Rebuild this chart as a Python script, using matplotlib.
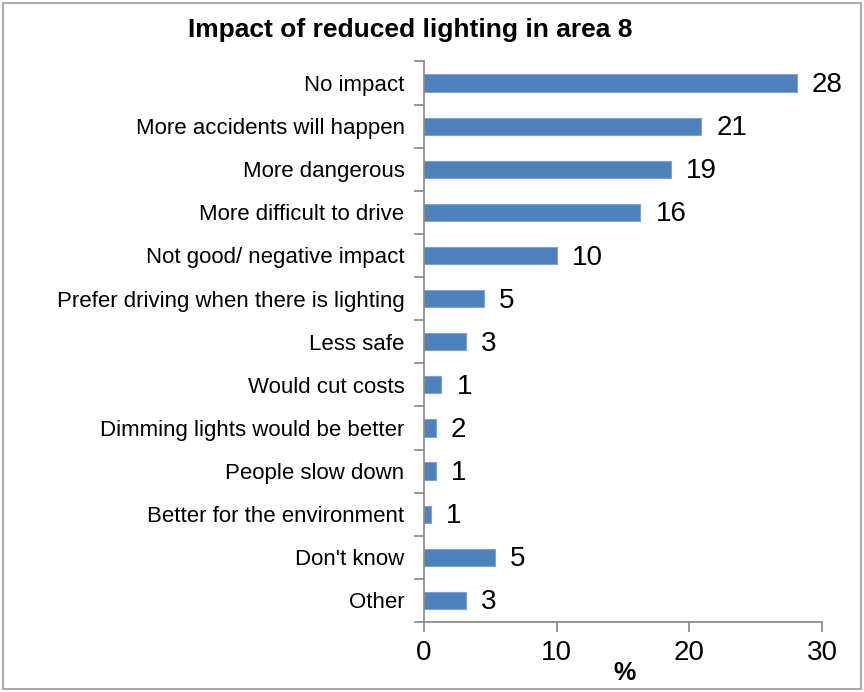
import matplotlib.pyplot as plt
import numpy as np
from matplotlib.patches import Rectangle

plt.rcParams['font.family'] = ['Liberation Sans', 'DejaVu Sans']

categories = ["No impact", "More accidents will happen", "More dangerous",
              "More difficult to drive", "Not good/ negative impact",
              "Prefer driving when there is lighting", "Less safe",
              "Would cut costs", "Dimming lights would be better",
              "People slow down", "Better for the environment",
              "Don't know", "Other"]
values = [28.1, 20.9, 18.6, 16.3, 10.0, 4.5, 3.15, 1.3, 0.88, 0.88, 0.5, 5.35, 3.15]
labels = ["28", "21", "19", "16", "10", "5", "3", "1", "2", "1", "1", "5", "3"]

fig = plt.figure(figsize=(8.64, 6.92), dpi=100)
ax = fig.add_axes([0.4907, 0.1012, 0.4607, 0.81])

y = np.arange(len(categories))
ax.barh(y, values, height=0.4, color='#4F81BD', edgecolor='#7FA3D3', linewidth=0.8, zorder=2)
ax.set_ylim(len(categories) - 0.5, -0.5)
ax.set_xlim(0, 30)
ax.set_xticks([0, 10, 20, 30])

ax.set_yticks(y)
ax.set_yticklabels(categories, fontsize=16)
ax.set_yticks(np.arange(len(categories) + 1) - 0.5, minor=True)
ax.tick_params(axis='y', which='major', length=0, pad=14)
ax.tick_params(axis='y', which='minor', length=7, width=1.2, color='#868686', direction='out')
ax.tick_params(axis='x', length=7, width=1.2, color='#868686', labelsize=20, pad=6)

for s in ['top', 'right']:
    ax.spines[s].set_visible(False)
for s in ['left', 'bottom']:
    ax.spines[s].set_color('#868686')
    ax.spines[s].set_linewidth(1.2)

for yi, v, lab in zip(y, values, labels):
    ax.annotate(lab, (v, yi), xytext=(11, -1.5), textcoords='offset points',
                va='center', ha='left', fontsize=20)

fig.text(0.475, 0.957, "Impact of reduced lighting in area 8", ha='center', va='center',
         fontsize=19, fontweight='bold')
fig.text(0.723, 0.027, "%", ha='center', va='center', fontsize=18, fontweight='bold')

fig.patches.append(Rectangle((0.004, 0.004), 0.992, 0.991, transform=fig.transFigure,
                             fill=False, edgecolor='#9a9a9a', linewidth=1.2))

fig.savefig("out.png", dpi=100)
